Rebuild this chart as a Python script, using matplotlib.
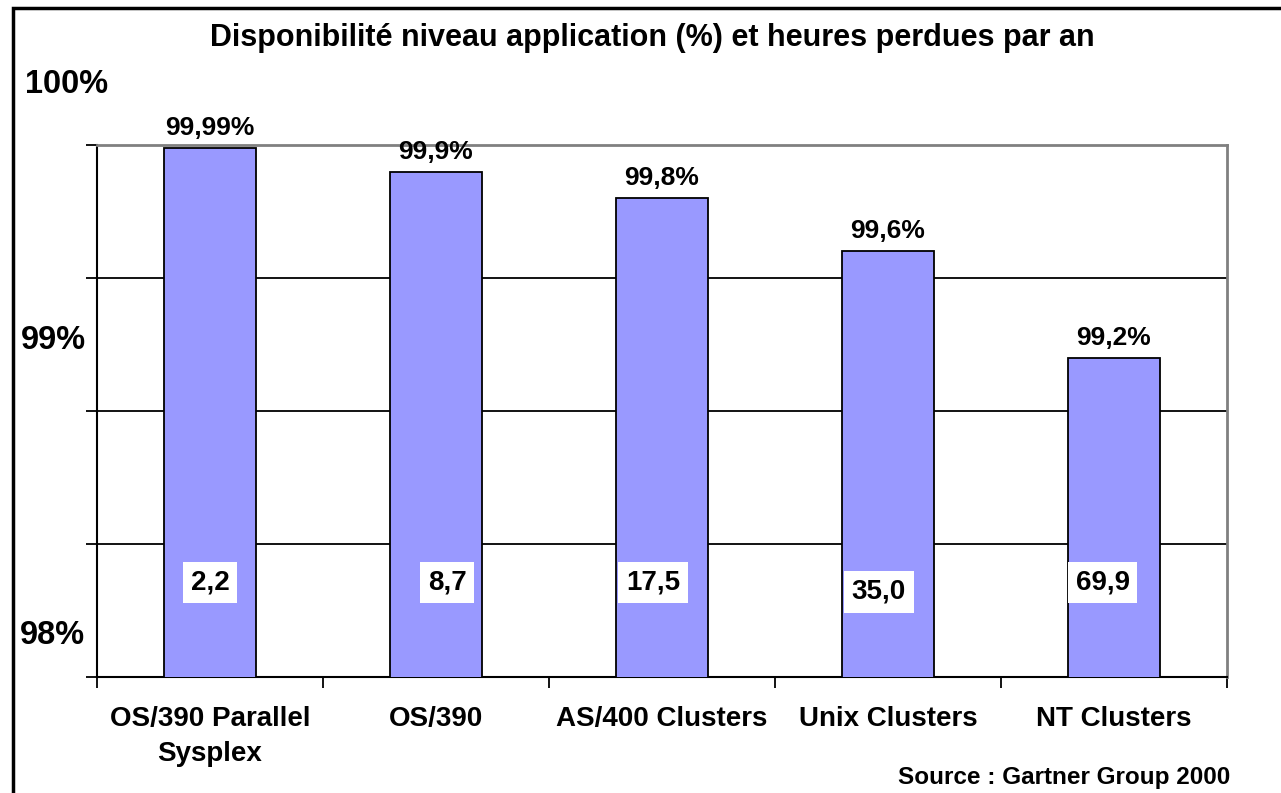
import matplotlib.pyplot as plt
from matplotlib.patches import Rectangle

# donnees
plateformes = ["OS/390 Parallel\nSysplex", "OS/390", "AS/400 Clusters", "Unix Clusters", "NT Clusters"]
disponibilite = [99.99, 99.9, 99.8, 99.6, 99.2]
etiquettes_dispo = ["99,99%", "99,9%", "99,8%", "99,6%", "99,2%"]
heures_perdues = ["2,2", "8,7", "17,5", "35,0", "69,9"]

plt.rcParams['font.family'] = ['Liberation Sans', 'DejaVu Sans']
plt.rcParams['font.weight'] = 'bold'

fig = plt.figure(figsize=(12.81, 7.93), dpi=100)
ax = fig.add_axes([0.0757, 0.1463, 0.882, 0.6708])

x = range(len(plateformes))
ax.bar(x, disponibilite, width=0.41, color='#9999FF', edgecolor='black', linewidth=1.3, zorder=3)

ax.set_xlim(-0.5, len(plateformes) - 0.5)
ax.set_ylim(98, 100)
ax.set_yticks([98, 98.5, 99, 99.5, 100])
ax.set_yticklabels([])
ax.yaxis.grid(True, color='black', linewidth=1.3, zorder=0)
ax.tick_params(axis='y', direction='out', length=8, width=1.3, color='black')

# ticks x entre les categories
ax.set_xticks([i + 0.5 for i in range(-1, len(plateformes))], minor=True)
ax.set_xticks(list(x))
ax.set_xticklabels(plateformes, fontsize=20, fontweight='bold', linespacing=1.45)
ax.tick_params(axis='x', which='major', length=0, pad=21)
ax.tick_params(axis='x', which='minor', direction='out', length=8, width=1.3)

for cote in ['left', 'bottom']:
    ax.spines[cote].set_linewidth(1.5)
for cote in ['top', 'right']:
    ax.spines[cote].set_color('#808080')
    ax.spines[cote].set_linewidth(2)

# etiquettes au-dessus des barres
for i, (v, txt) in enumerate(zip(disponibilite, etiquettes_dispo)):
    ax.annotate(txt, (i, v), xytext=(0, 20), textcoords='offset pixels',
                ha='center', va='center', fontsize=19, fontweight='bold', zorder=5)

# heures perdues par an dans des boites blanches
decalage_x = [0, 0.05, -0.04, -0.04, -0.05]
hauteur_y = [98.355, 98.355, 98.355, 98.32, 98.355]
for i, h in enumerate(heures_perdues):
    ax.text(i + decalage_x[i], hauteur_y[i], h, ha='center', va='center', fontsize=20, fontweight='bold',
            zorder=5, bbox=dict(boxstyle='square,pad=0.28', facecolor='white', edgecolor='none'))

fig.text(0.509, 0.952, "Disponibilité niveau application (%) et heures perdues par an",
         ha='center', va='center', fontsize=22, fontweight='bold')
fig.text(0.052, 0.893, "100%", ha='center', va='center', fontsize=23.5, fontweight='bold')
fig.text(0.042, 0.571, "99%", ha='center', va='center', fontsize=23.5, fontweight='bold')
fig.text(0.041, 0.199, "98%", ha='center', va='center', fontsize=23.5, fontweight='bold')
fig.text(0.96, 0.02, "Source : Gartner Group 2000", ha='right', va='center', fontsize=17.5, fontweight='bold')

# cadre autour de la figure
fig.patches.append(Rectangle((0.0105, -0.05), 1.2, 1.04, transform=fig.transFigure,
                             fill=False, edgecolor='black', linewidth=2.5))

fig.savefig('out.png', dpi=100)
